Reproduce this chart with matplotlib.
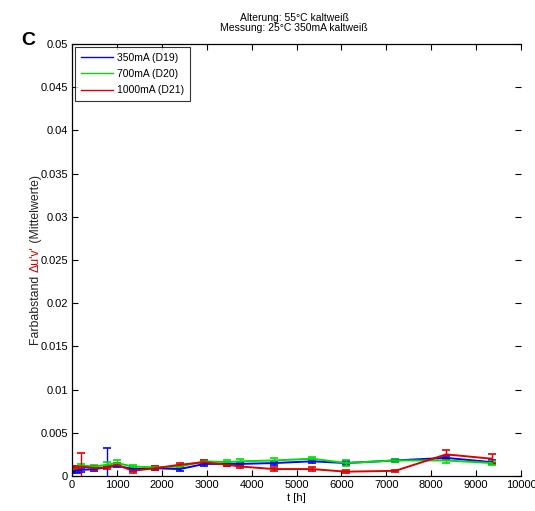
import matplotlib
matplotlib.use("Agg")
import matplotlib.pyplot as plt
from matplotlib.lines import Line2D
import numpy as np

t_hours = [0, 100, 200, 500, 780, 1000, 1350, 1850, 2400, 2950, 3450, 3750, 4500, 5350, 6100, 7200, 8330, 9350]

blue_350 = [0.0005, 0.0006, 0.0007, 0.0008, 0.0010, 0.0012, 0.0008, 0.0009, 0.0008, 0.0014, 0.0014, 0.0014, 0.0015, 0.0017, 0.0015, 0.0018, 0.0021, 0.0016]
blue_err = [0.0002, 0.0002, 0.0002, 0.0002, 0.0022, 0.0002, 0.0002, 0.0002, 0.0002, 0.0002, 0.0002, 0.0002, 0.0002, 0.0002, 0.0002, 0.0002, 0.0002, 0.0002]

green_700 = [0.0008, 0.0010, 0.0012, 0.0011, 0.0013, 0.0015, 0.0011, 0.0010, 0.0011, 0.0017, 0.0016, 0.0017, 0.0018, 0.0020, 0.0015, 0.0018, 0.0018, 0.0015]
green_err = [0.0002, 0.0002, 0.0002, 0.0002, 0.0003, 0.0003, 0.0002, 0.0002, 0.0002, 0.0002, 0.0003, 0.0003, 0.0003, 0.0002, 0.0003, 0.0002, 0.0003, 0.0002]

red_1000 = [0.0009, 0.0010, 0.0011, 0.0009, 0.0010, 0.0013, 0.0006, 0.0009, 0.0013, 0.0016, 0.0013, 0.0011, 0.0008, 0.0008, 0.0005, 0.0006, 0.0025, 0.0020]
red_err = [0.0002, 0.0002, 0.0016, 0.0002, 0.0002, 0.0002, 0.0002, 0.0002, 0.0002, 0.0002, 0.0002, 0.0002, 0.0002, 0.0002, 0.0002, 0.0001, 0.0005, 0.0005]

labels = ["350mA (D19)", "700mA (D20)", "1000mA (D21)"]
x_ticks = list(range(0, 10001, 1000))
y_ticks = [0, 0.005, 0.01, 0.015, 0.02, 0.025, 0.03, 0.035, 0.04, 0.045, 0.05]
y_ticklabels = ["0", "0.005", "0.01", "0.015", "0.02", "0.025", "0.03", "0.035", "0.04", "0.045", "0.05"]

plt.rcParams['font.family'] = ['Liberation Sans', 'DejaVu Sans']

fig = plt.figure(figsize=(5.35, 5.11), dpi=100)
ax = fig.add_axes([0.1346, 0.0685, 0.8394, 0.8454])

colors = ["#0000ff", "#00dd00", "#dd0000"]
series = [(blue_350, blue_err), (green_700, green_err), (red_1000, red_err)]
for (vals, errs), col, lab in zip(series, colors, labels):
    ax.errorbar(t_hours, vals, yerr=errs, color=col, lw=1.4, capsize=3, elinewidth=1.0, capthick=1.2)

ax.set_xlim(0, 10000)
ax.set_ylim(0, 0.05)
ax.set_xticks(x_ticks)
ax.set_xticklabels([str(v) for v in x_ticks])
ax.set_yticks(y_ticks)
ax.set_yticklabels(y_ticklabels)
ax.tick_params(direction='in', top=True, right=True, labelsize=8, length=4, width=0.8, pad=3)
ax.spines['right'].set_visible(False)
for s in ['left', 'top', 'bottom']:
    ax.spines[s].set_linewidth(0.9)

ax.set_xlabel("t [h]", fontsize=8, labelpad=2)

handles = [Line2D([], [], color=c, lw=1.0) for c in colors]
leg = ax.legend(handles, labels, loc='upper left', fontsize=7.5, frameon=True, fancybox=False, edgecolor='black',
                borderaxespad=0.3, handlelength=3.1, handletextpad=0.4, labelspacing=0.6, borderpad=0.55)
leg.get_frame().set_linewidth(0.8)

fig.text(0.55, 0.955, "Alterung: 55°C kaltweiß\nMessung: 25°C 350mA kaltweiß", ha='center', va='center',
         fontsize=7.5, linespacing=1.1)
fig.text(0.052, 0.92, "C", fontsize=14, fontweight='bold', ha='center', va='center')

# y label with coloured part
parts = [("Farbabstand ", '#222222'), ("\u0394u'v'", '#cc0000'), (" (Mittelwerte)", '#222222')]
renderer = fig.canvas.get_renderer()
texts = []
widths = []
for s, c in parts:
    tt = fig.text(0, 0, s, rotation=90, rotation_mode='anchor', fontsize=8.8, color=c, ha='left', va='baseline')
    w, h, d = renderer.get_text_width_height_descent(s, tt.get_fontproperties(), ismath=False)
    widths.append(w)
    texts.append(tt)
total = sum(widths)
ycenter = 0.5 * (0.0685 + 0.0685 + 0.8454) * fig.bbox.height
y0 = ycenter - total / 2
xpix = 0.072 * fig.bbox.width
for tt, w in zip(texts, widths):
    tt.set_position((xpix / fig.bbox.width, y0 / fig.bbox.height))
    y0 += w

fig.savefig("out.png", dpi=100)
